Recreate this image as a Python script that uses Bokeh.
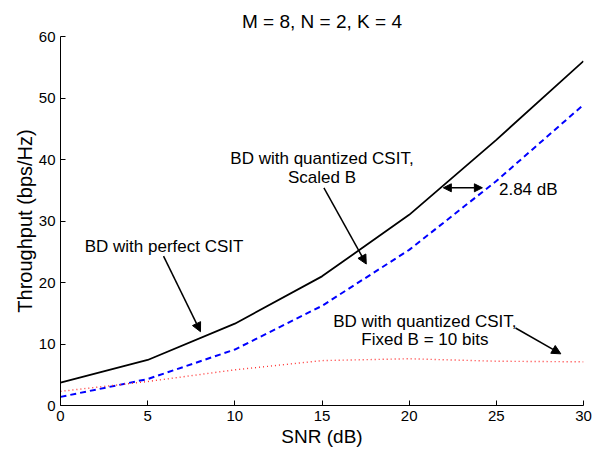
from bokeh.plotting import figure
from bokeh.models import Arrow, NormalHead, Range1d, FixedTicker
from bokeh.core.properties import value
from bokeh.embed import file_html
from bokeh.resources import INLINE

# ---- data ----
snr = [0, 5, 10, 15, 20, 25, 30]
perfect_csit = [3.7, 7.4, 13.3, 21.0, 31.0, 43.2, 56.0]
quantized_scaled = [1.4, 4.3, 9.1, 16.2, 25.3, 36.5, 48.9]
quantized_fixed = [2.3, 3.9, 5.8, 7.3, 7.6, 7.2, 7.1]

x_ticks = [0, 5, 10, 15, 20, 25, 30]
y_ticks = [0, 10, 20, 30, 40, 50, 60]

title_text = "M = 8, N = 2, K = 4"
x_label = "SNR (dB)"
y_label = "Throughput (bps/Hz)"

# annotation texts and anchor points (data coords)
ann_text = ["BD with perfect CSIT", "BD with quantized CSIT,", "Scaled B",
            "BD with quantized CSIT,", "Fixed B = 10 bits"]
ann_x = [5.94, 15.0, 15.0, 20.9, 20.9]
ann_y = [25.9, 40.1, 37.0, 13.7, 10.7]
db_text = ["2.84 dB"]
db_x = [25.15]
db_y = [35.2]

# arrows: (x_start, y_start, x_end, y_end)
arrows = [(5.91, 24.3, 8.03, 12.0),
          (15.11, 35.4, 17.54, 23.0),
          (26.1, 12.6, 28.7, 8.4)]
double_arrow = (21.96, 35.4, 24.2, 35.4)

FONT = "Liberation Sans"

p = figure(width=606, height=449, output_backend="svg", toolbar_location=None,
           x_range=Range1d(0, 30), y_range=Range1d(0, 60),
           min_border_left=60, min_border_right=23, min_border_top=36,
           min_border_bottom=43, title=title_text)
p.outline_line_color = None
p.grid.visible = False
p.background_fill_color = "white"
p.border_fill_color = "white"

p.title.align = "center"
p.title.text_font = FONT
p.title.text_font_size = "19px"
p.title.text_font_style = "normal"
p.title.text_color = "black"

for ax, ticks, lab in ((p.xaxis[0], x_ticks, x_label), (p.yaxis[0], y_ticks, y_label)):
    ax.ticker = FixedTicker(ticks=ticks)
    ax.axis_label = lab
    ax.axis_label_text_font = FONT
    ax.axis_label_text_font_style = "normal"
    ax.axis_label_text_color = "black"
    ax.major_label_text_font = FONT
    ax.major_label_text_font_size = "15px"
    ax.major_label_text_color = "black"
    ax.major_tick_in = 5
    ax.major_tick_out = 0
    ax.minor_tick_in = 0
    ax.minor_tick_out = 0
    ax.axis_line_color = "black"
    ax.major_tick_line_color = "black"

p.xaxis.axis_label_text_font_size = "19px"
p.yaxis.axis_label_text_font_size = "20px"
p.xaxis.axis_label_standoff = 2
p.yaxis.axis_label_standoff = 0
p.xaxis.major_label_standoff = 5
p.yaxis.major_label_standoff = 5

p.line(snr, perfect_csit, line_color="black", line_width=1.8)
p.line(snr, quantized_scaled, line_color="#0000ff", line_width=2, line_dash="6 4")
p.line(snr, quantized_fixed, line_color="#ff3030", line_width=1.4, line_dash="1 3")

p.text(ann_x, ann_y, text=ann_text, text_align="center", text_baseline="middle",
       text_font=value(FONT), text_font_size="17px", text_color="black")
p.text(db_x, db_y, text=db_text, text_align="left", text_baseline="middle",
       text_font=value(FONT), text_font_size="17px", text_color="black")

for (xs, ys, xe, ye) in arrows:
    p.add_layout(Arrow(end=NormalHead(size=9, fill_color="black", line_color="black"),
                       x_start=xs, y_start=ys, x_end=xe, y_end=ye,
                       line_color="black", line_width=1.5))
xs, ys, xe, ye = double_arrow
p.add_layout(Arrow(start=NormalHead(size=8, fill_color="black", line_color="black"),
                   end=NormalHead(size=8, fill_color="black", line_color="black"),
                   x_start=xs, y_start=ys, x_end=xe, y_end=ye,
                   line_color="black", line_width=1.5))

open("out.html", "w").write(file_html(p, INLINE))
